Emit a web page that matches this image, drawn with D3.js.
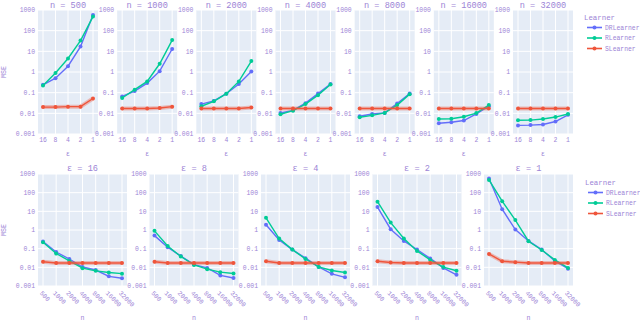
<!DOCTYPE html>
<html>
<head>
<meta charset="utf-8">
<script src="https://cdn.jsdelivr.net/npm/d3@7"></script>
<style>
  body { margin: 0; background: #fff; }
  svg { display: block; }
  text { font-family: "Liberation Mono", "DejaVu Sans Mono", monospace; fill: #9c84d6; }
</style>
</head>
<body>
<svg id="chart" width="640" height="321"></svg>
<script>
// categories
var nValues = ["500", "1000", "2000", "4000", "8000", "16000", "32000"];
var epsValues = ["16", "8", "4", "2", "1"];
var learners = ["DRLearner", "RLearner", "SLearner"];
var colors = ["#636efa", "#00cc96", "#ef553b"];

// MSE, rows = n, cols = epsilon (16, 8, 4, 2, 1)
var drMSE = [
    [0.24, 0.5, 1.9, 17, 570],
    [0.066, 0.12, 0.29, 1.1, 13],
    [0.028, 0.04, 0.089, 0.26, 1.05],
    [0.0104, 0.014, 0.031, 0.09, 0.26],
    [0.0072, 0.0093, 0.0105, 0.03, 0.09],
    [0.0033, 0.0037, 0.0045, 0.0093, 0.022],
    [0.0026, 0.0027, 0.0029, 0.004, 0.0085]
];
var rMSE = [
    [0.22, 0.9, 4.5, 33, 480],
    [0.055, 0.14, 0.35, 2.5, 35],
    [0.022, 0.038, 0.089, 0.35, 3.4],
    [0.009, 0.0135, 0.028, 0.076, 0.25],
    [0.0065, 0.008, 0.0105, 0.025, 0.085],
    [0.0053, 0.0055, 0.0068, 0.0103, 0.025],
    [0.0046, 0.0047, 0.0053, 0.0066, 0.0093]
];
var sMSE = [
    [0.02, 0.02, 0.021, 0.021, 0.052],
    [0.017, 0.017, 0.017, 0.018, 0.021],
    [0.017, 0.017, 0.017, 0.017, 0.019],
    [0.017, 0.017, 0.017, 0.017, 0.017],
    [0.017, 0.017, 0.017, 0.017, 0.017],
    [0.017, 0.017, 0.017, 0.017, 0.017],
    [0.017, 0.017, 0.017, 0.017, 0.017]
];
var yTicks = [0.001, 0.01, 0.1, 1, 10, 100, 1000];
var yTickLabels = ["0.001", "0.01", "0.1", "1", "10", "100", "1000"];

var allData = [drMSE, rMSE, sMSE];

var svg = d3.select("#chart");

function drawPanel(opt) {
    var g = svg.append("g");
    var x = d3.scalePoint().domain(opt.cats).range([opt.x0 + 5, opt.x1 - 5]);
    var y = d3.scaleLog().domain([0.001, 1000]).range([opt.y1, opt.y0]);

    g.append("rect")
        .attr("x", opt.x0).attr("y", opt.y0)
        .attr("width", opt.x1 - opt.x0).attr("height", opt.y1 - opt.y0)
        .attr("fill", "#e5ecf6");

    // grid
    g.selectAll(".hg").data(yTicks).enter().append("line")
        .attr("x1", opt.x0).attr("x2", opt.x1)
        .attr("y1", function (d) { return y(d); }).attr("y2", function (d) { return y(d); })
        .attr("stroke", "#fff").attr("stroke-width", 1);
    g.selectAll(".vg").data(opt.cats).enter().append("line")
        .attr("x1", function (d) { return x(d); }).attr("x2", function (d) { return x(d); })
        .attr("y1", opt.y0).attr("y2", opt.y1)
        .attr("stroke", "#fff").attr("stroke-width", 1);

    // y tick labels
    g.selectAll(".yl").data(yTicks).enter().append("text")
        .attr("x", opt.x0 - 3).attr("y", function (d) { return y(d); })
        .attr("dy", "0.35em").attr("text-anchor", "end")
        .style("font-size", "6.4px")
        .text(function (d, i) { return yTickLabels[i]; });

    // x tick labels
    if (opt.rotate) {
        g.selectAll(".xl").data(opt.cats).enter().append("text")
            .attr("transform", function (d) { return "translate(" + (x(d) - 2) + "," + (opt.y1 + 6) + ") rotate(45)"; })
            .attr("dy", "0.35em").attr("text-anchor", "start")
            .style("font-size", "6.4px")
            .text(function (d) { return d; });
    } else {
        g.selectAll(".xl").data(opt.cats).enter().append("text")
            .attr("x", function (d) { return x(d); }).attr("y", opt.y1 + 6)
            .attr("dy", "0.35em").attr("text-anchor", "middle")
            .style("font-size", "6.4px")
            .text(function (d) { return d; });
    }

    // lines
    var line = d3.line()
        .x(function (d) { return x(d.c); })
        .y(function (d) { return y(d.v); });

    opt.series.forEach(function (vals, k) {
        var pts = opt.cats.map(function (c, i) { return { c: c, v: vals[i] }; });
        if (k === 2) {
            g.append("path").attr("d", line(pts)).attr("fill", "none")
                .attr("stroke", colors[k]).attr("stroke-opacity", 0.35)
                .attr("stroke-width", 4);
        }
        g.append("path").attr("d", line(pts)).attr("fill", "none")
            .attr("stroke", colors[k]).attr("stroke-width", 1.4);
        g.selectAll(".pt" + k).data(pts).enter().append("circle")
            .attr("cx", function (d) { return x(d.c); })
            .attr("cy", function (d) { return y(d.v); })
            .attr("r", 2).attr("fill", colors[k]);
    });

    // title
    g.append("text")
        .attr("x", (opt.x0 + opt.x1) / 2).attr("y", opt.titleY)
        .attr("text-anchor", "middle")
        .style("font-size", "8.6px")
        .text(opt.title);

    // x axis title
    g.append("text")
        .attr("x", (opt.x0 + opt.x1) / 2).attr("y", opt.xTitleY)
        .attr("dy", "0.35em").attr("text-anchor", "middle")
        .style("font-size", "6.6px")
        .text(opt.xTitle);

    if (opt.yTitle) {
        g.append("text")
            .attr("transform", "translate(4," + (opt.y0 + opt.y1) / 2 + ") rotate(-90)")
            .attr("dy", "0.35em").attr("text-anchor", "middle")
            .style("font-size", "6.6px")
            .text("MSE");
    }
}

// top row: one panel per n, x = epsilon
var left = 38, right = 573;
var topW = 60, topGap = (right - left - 7 * topW) / 6;
nValues.forEach(function (n, i) {
    var x0 = left + i * (topW + topGap);
    drawPanel({
        x0: x0, x1: x0 + topW, y0: 10, y1: 134,
        cats: epsValues,
        series: allData.map(function (m) { return m[i]; }),
        title: "n = " + n, titleY: 7.5,
        xTitle: "\u03b5", xTitleY: 154,
        yTitle: i === 0, rotate: false
    });
});

// bottom row: one panel per epsilon, x = n
var botW = 89, botGap = (right - left - 5 * botW) / 4;
epsValues.forEach(function (e, j) {
    var x0 = left + j * (botW + botGap);
    drawPanel({
        x0: x0, x1: x0 + botW, y0: 174, y1: 286,
        cats: nValues,
        series: allData.map(function (m) { return m.map(function (row) { return row[j]; }); }),
        title: "\u03b5 = " + e, titleY: 170.5,
        xTitle: "n", xTitleY: 318,
        yTitle: j === 0, rotate: true
    });
});

// legends
function drawLegend(lx, ty) {
    var g = svg.append("g");
    g.append("text").attr("x", lx).attr("y", ty)
        .attr("dy", "0.35em").style("font-size", "7.4px").text("Learner");
    learners.forEach(function (name, k) {
        var yy = ty + 10.5 * (k + 1);
        g.append("line").attr("x1", lx + 3).attr("x2", lx + 18)
            .attr("y1", yy).attr("y2", yy)
            .attr("stroke", colors[k]).attr("stroke-width", 1.6);
        g.append("circle").attr("cx", lx + 10.5).attr("cy", yy).attr("r", 2)
            .attr("fill", colors[k]);
        g.append("text").attr("x", lx + 21).attr("y", yy)
            .attr("dy", "0.35em").style("font-size", "6.4px").text(name);
    });
}
drawLegend(584, 17);
drawLegend(585, 182);
</script>
</body>
</html>
